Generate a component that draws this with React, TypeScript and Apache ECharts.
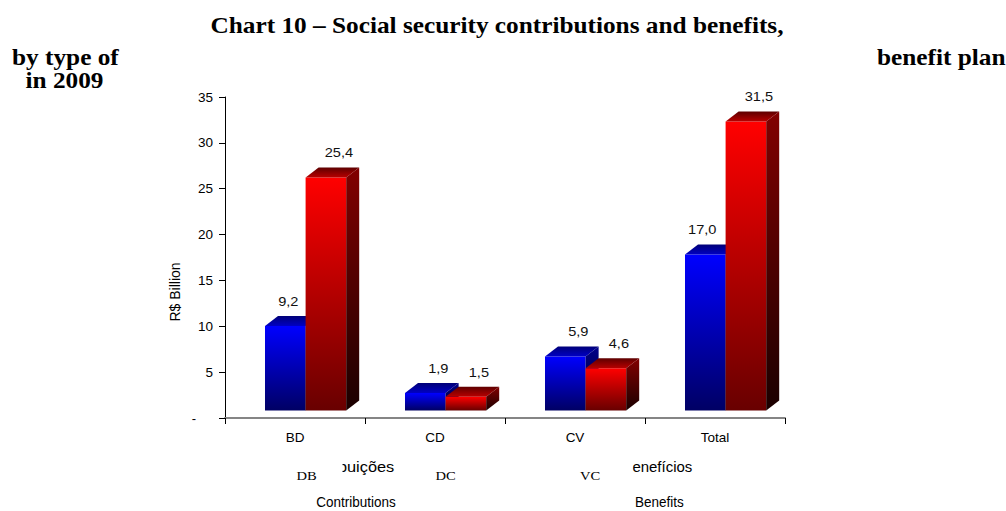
import { useEffect, useRef } from 'react';
import * as echarts from 'echarts';

// Values in R$ billion, 2009
const categories = ['BD', 'CD', 'CV', 'Total'];
const contributions = [9.2, 1.9, 5.9, 17.0];
const benefits = [25.4, 1.5, 4.6, 31.5];
const planNames = ['DB', 'DC', 'VC'];
const yMin = 0;
const yMax = 35;
const yStep = 5;

const SANS = '"Liberation Sans", Arial, sans-serif';
const SERIF = '"Liberation Serif", "Times New Roman", serif';

// pseudo-3D box geometry (pixels)
const DEPTH_X = 13;
const DEPTH_Y = 10;
const LIFT = 7.5;

const fmt = (v: number) => v.toFixed(1).replace('.', ',');

const vGrad = (top: string, bottom: string) =>
  new echarts.graphic.LinearGradient(0, 0, 0, 1, [
    { offset: 0, color: top },
    { offset: 1, color: bottom },
  ]);

type Kind = 'contrib' | 'benefit';

const palette: Record<Kind, { front: [string, string]; top: [string, string]; side: [string, string] }> = {
  contrib: {
    front: ['#0000ff', '#000064'],
    top: ['#000078', '#0000c4'],
    side: ['#00008c', '#00001e'],
  },
  benefit: {
    front: ['#ff0000', '#680000'],
    top: ['#5e0000', '#b80000'],
    side: ['#820000', '#1a0000'],
  },
};

// label nudges for the two tall blue bars
const labelDx = (kind: Kind, ci: number) => {
  if (kind === 'contrib' && ci === 0) return 3;
  if (kind === 'contrib' && ci === 3) return -3;
  return 13;
};

const makeRender = (kind: Kind) => (params: any, api: any) => {
  const ci = api.value(0) as number;
  const v = api.value(1) as number;
  const base = api.coord([ci, 0]);
  const top = api.coord([ci, v]);
  const band = api.size([1, 0])[0];
  const w = band * 0.29;
  const x0 = kind === 'contrib' ? base[0] - band * 0.2143 : base[0] - band * 0.2143 + w;
  const yB = base[1] - LIFT;
  const yT = top[1] - LIFT;
  const c = palette[kind];
  return {
    type: 'group',
    children: [
      {
        type: 'rect',
        shape: { x: x0, y: yT, width: w, height: yB - yT },
        style: { fill: vGrad(c.front[0], c.front[1]) },
      },
      {
        type: 'polygon',
        shape: {
          points: [
            [x0, yT],
            [x0 + DEPTH_X, yT - DEPTH_Y],
            [x0 + w + DEPTH_X, yT - DEPTH_Y],
            [x0 + w, yT],
          ],
        },
        style: { fill: vGrad(c.top[0], c.top[1]) },
      },
      {
        type: 'polygon',
        shape: {
          points: [
            [x0 + w, yT],
            [x0 + w + DEPTH_X, yT - DEPTH_Y],
            [x0 + w + DEPTH_X, yB - DEPTH_Y],
            [x0 + w, yB],
          ],
        },
        style: { fill: vGrad(c.side[0], c.side[1]) },
      },
      {
        type: 'text',
        x: x0 + w / 2 + labelDx(kind, ci),
        y: yT - DEPTH_Y - 15,
        scaleX: 1.08,
        style: {
          text: fmt(v),
          align: 'center',
          verticalAlign: 'middle',
          fontSize: 13.5,
          fontFamily: SANS,
          fill: '#111',
        },
      },
    ],
  };
};

const heading = (text: string, x: number, y: number, align: string) => ({
  type: 'text',
  x,
  y,
  scaleX: 1.1,
  style: {
    text,
    align,
    verticalAlign: 'middle',
    fontSize: 23,
    fontWeight: 'bold',
    fontFamily: SERIF,
    fill: '#000',
  },
});

export default function App() {
  const ref = useRef<HTMLDivElement>(null);

  useEffect(() => {
    document.body.style.margin = '0';
    if (!ref.current) return;
    const chart = echarts.init(ref.current, null, { renderer: 'svg' });

    const planX = [306.7, 445.7, 590];

    chart.setOption({
      animation: false,
      backgroundColor: '#fff',
      grid: { left: 225, right: 221, top: 97, bottom: 93, containLabel: false },
      xAxis: {
        type: 'category',
        data: categories,
        boundaryGap: true,
        axisLine: { show: true, lineStyle: { color: '#858585', width: 2 } },
        axisTick: { show: true, length: 6, lineStyle: { color: '#000', width: 1 } },
        axisLabel: { margin: 12, fontSize: 13.5, color: '#000', fontFamily: SANS },
        splitLine: { show: false },
      },
      yAxis: {
        type: 'value',
        min: yMin,
        max: yMax,
        interval: yStep,
        axisLine: { show: true, lineStyle: { color: '#000', width: 1 } },
        axisTick: { show: true, length: 6, lineStyle: { color: '#000' } },
        splitLine: { show: false },
        axisLabel: {
          margin: 12,
          fontSize: 13.5,
          color: '#000',
          fontFamily: SANS,
          formatter: (v: number) => (v === 0 ? '{d|-}' : String(v)),
          rich: { d: { fontSize: 13, fontFamily: SANS, color: '#000', padding: [0, 17, 0, 0] } },
        },
      },
      series: [
        {
          name: 'Contributions',
          type: 'custom',
          renderItem: makeRender('contrib'),
          data: contributions.map((v, i) => [i, v]),
          encode: { x: 0, y: 1 },
        },
        {
          name: 'Benefits',
          type: 'custom',
          renderItem: makeRender('benefit'),
          data: benefits.map((v, i) => [i, v]),
          encode: { x: 0, y: 1 },
        },
      ],
      graphic: [
        heading('Chart 10 – Social security contributions and benefits,', 497, 24.5, 'center'),
        heading('by type of', 12, 56.5, 'left'),
        heading('in 2009', 64.5, 79.5, 'center'),
        heading('benefit plan', 877, 56.5, 'left'),
        {
          type: 'text',
          x: 175,
          y: 292,
          rotation: Math.PI / 2,
          style: {
            text: 'R$ Billion',
            align: 'center',
            verticalAlign: 'middle',
            fontSize: 14,
            fontFamily: SANS,
            fill: '#000',
          },
        },
        // Portuguese legend captions, partly masked on the left
        {
          type: 'text',
          x: 394.3,
          y: 467,
          z: 1,
          scaleX: 1.17,
          style: {
            text: 'Contribuições',
            align: 'right',
            verticalAlign: 'middle',
            fontSize: 14,
            fontFamily: SANS,
            fill: '#000',
          },
        },
        {
          type: 'text',
          x: 692.3,
          y: 467,
          z: 1,
          scaleX: 1.07,
          style: {
            text: 'Benefícios',
            align: 'right',
            verticalAlign: 'middle',
            fontSize: 14,
            fontFamily: SANS,
            fill: '#000',
          },
        },
        {
          type: 'rect',
          z: 2,
          shape: { x: 280, y: 456, width: 62.5, height: 22 },
          style: { fill: '#fff' },
        },
        {
          type: 'rect',
          z: 2,
          shape: { x: 600, y: 456, width: 32.5, height: 22 },
          style: { fill: '#fff' },
        },
        ...planNames.map((name, i) => ({
          type: 'text',
          x: planX[i],
          y: 476,
          z: 3,
          scaleX: 1.12,
          style: {
            text: name,
            align: 'center',
            verticalAlign: 'middle',
            fontSize: 13,
            fontFamily: SERIF,
            fill: '#000',
          },
        })),
        {
          type: 'text',
          x: 356,
          y: 502,
          scaleY: 1.15,
          style: {
            text: 'Contributions',
            align: 'center',
            verticalAlign: 'middle',
            fontSize: 13.5,
            fontFamily: SANS,
            fill: '#000',
          },
        },
        {
          type: 'text',
          x: 659.3,
          y: 502,
          scaleY: 1.15,
          style: {
            text: 'Benefits',
            align: 'center',
            verticalAlign: 'middle',
            fontSize: 13.5,
            fontFamily: SANS,
            fill: '#000',
          },
        },
      ],
    });

    return () => chart.dispose();
  }, []);

  return <div ref={ref} style={{ width: 1006, height: 511 }} />;
}
